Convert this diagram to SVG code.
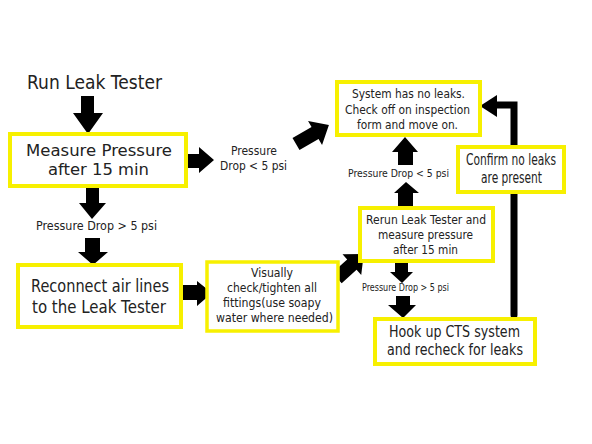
<svg xmlns="http://www.w3.org/2000/svg" width="592" height="444" viewBox="0 0 592 444">
<style>
.box{fill:#fff;stroke:#f7f000;stroke-width:4}
.arr{fill:#000}
.t{font-family:"DejaVu Sans","Liberation Sans",sans-serif;fill:#222}
</style>
<rect width="592" height="444" fill="#fff"/>
<g id="connectors">
<polygon class="arr" points="81,96 94,96 94,113 103,113 88,134 73,113 81,113"/>
<polygon class="arr" points="181,154 199,154 199,147 214,160 199,173 199,168 181,168"/>
<polygon class="arr" points="86,188 99,188 99,203 106,203 92,219 79,203 86,203"/>
<polygon class="arr" points="85,238 100,238 100,252 108,252 93,265 78,252 85,252"/>
<polygon class="arr" points="178,285 197,285 197,281 212,293 197,306 197,300 178,300"/>
<polygon class="arr" transform="translate(296,144) rotate(-30)" points="0,-7 22,-7 22,-14 38,0 22,14 22,7 0,7"/>
<polygon class="arr" transform="translate(337,278) rotate(-42)" points="0,-7 20,-7 20,-14 36,0 20,14 20,7 0,7"/>
<polygon class="arr" points="398,165 413,165 413,152 418,152 405,137 392,152 398,152"/>
<polygon class="arr" points="398,206 413,206 413,193 419,193 406,182 394,193 398,193"/>
<polygon class="arr" points="395,263 408,263 408,272 413,272 402,283 390,272 395,272"/>
<polygon class="arr" points="396,296 410,296 410,305 416,305 403,318 388,305 396,305"/>
<path d="M514,315 V105 H494" fill="none" stroke="#000" stroke-width="7" stroke-linecap="round"/>
<polygon class="arr" points="497,95 497,117 480,106"/>
</g>
<g id="start">
<text class="t" x="27" y="89" font-size="19" textLength="135" lengthAdjust="spacingAndGlyphs">Run Leak Tester</text>
</g>
<g id="measure">
<rect class="box" x="10" y="134" width="176" height="52"/>
<text class="t" x="26" y="156" font-size="16.5" textLength="146" lengthAdjust="spacingAndGlyphs">Measure Pressure</text>
<text class="t" x="48" y="175" font-size="16.5" textLength="101" lengthAdjust="spacingAndGlyphs">after 15 min</text>
</g>
<g id="label-drop-lt-1">
<text class="t" x="231" y="155" font-size="12.5" textLength="46" lengthAdjust="spacingAndGlyphs">Pressure</text>
<text class="t" x="220" y="170" font-size="12.5" textLength="67" lengthAdjust="spacingAndGlyphs">Drop &lt; 5 psi</text>
</g>
<g id="label-drop-gt-1">
<text class="t" x="36" y="230" font-size="12.5" textLength="121" lengthAdjust="spacingAndGlyphs">Pressure Drop &gt; 5 psi</text>
</g>
<g id="reconnect">
<rect class="box" x="18" y="265" width="163" height="62"/>
<text class="t" x="31" y="292" font-size="18" textLength="138" lengthAdjust="spacingAndGlyphs">Reconnect air lines</text>
<text class="t" x="32" y="313" font-size="18" textLength="134" lengthAdjust="spacingAndGlyphs">to the Leak Tester</text>
</g>
<g id="visually">
<rect class="box" x="207" y="262" width="131" height="69" style="stroke-width:3.5"/>
<text class="t" x="251" y="277" font-size="12.5" textLength="42" lengthAdjust="spacingAndGlyphs">Visually</text>
<text class="t" x="227" y="292" font-size="12.5" textLength="90" lengthAdjust="spacingAndGlyphs">check/tighten all</text>
<text class="t" x="223" y="307" font-size="12.5" textLength="98" lengthAdjust="spacingAndGlyphs">fittings(use soapy</text>
<text class="t" x="216" y="322" font-size="12.5" textLength="117" lengthAdjust="spacingAndGlyphs">water where needed)</text>
</g>
<g id="rerun">
<rect class="box" x="360" y="208" width="133" height="53"/>
<text class="t" x="366" y="224" font-size="12.5" textLength="120" lengthAdjust="spacingAndGlyphs">Rerun Leak Tester and</text>
<text class="t" x="378" y="239" font-size="12.5" textLength="95" lengthAdjust="spacingAndGlyphs">measure pressure</text>
<text class="t" x="393" y="254" font-size="12.5" textLength="65" lengthAdjust="spacingAndGlyphs">after 15 min</text>
</g>
<g id="system">
<rect class="box" x="337" y="82" width="143" height="53"/>
<text class="t" x="352" y="98" font-size="12.5" textLength="113" lengthAdjust="spacingAndGlyphs">System has no leaks.</text>
<text class="t" x="345" y="114" font-size="12.5" textLength="125" lengthAdjust="spacingAndGlyphs">Check off on inspection</text>
<text class="t" x="357" y="129" font-size="12.5" textLength="101" lengthAdjust="spacingAndGlyphs">form and move on.</text>
</g>
<g id="label-drop-lt-2">
<text class="t" x="348" y="177" font-size="11" textLength="101" lengthAdjust="spacingAndGlyphs">Pressure Drop &lt; 5 psi</text>
</g>
<g id="confirm">
<rect class="box" x="458" y="147" width="106" height="45"/>
<text class="t" x="466" y="165" font-size="15" textLength="90" lengthAdjust="spacingAndGlyphs">Confirm no leaks</text>
<text class="t" x="481" y="183" font-size="15" textLength="61" lengthAdjust="spacingAndGlyphs">are present</text>
</g>
<g id="label-drop-gt-2">
<text class="t" x="362" y="291" font-size="10" textLength="87" lengthAdjust="spacingAndGlyphs">Pressure Drop &gt; 5 psi</text>
</g>
<g id="hookup">
<rect class="box" x="375" y="319" width="160" height="45"/>
<text class="t" x="389" y="337" font-size="15" textLength="131" lengthAdjust="spacingAndGlyphs">Hook up CTS system</text>
<text class="t" x="387" y="355" font-size="15" textLength="136" lengthAdjust="spacingAndGlyphs">and recheck for leaks</text>
</g>
</svg>
